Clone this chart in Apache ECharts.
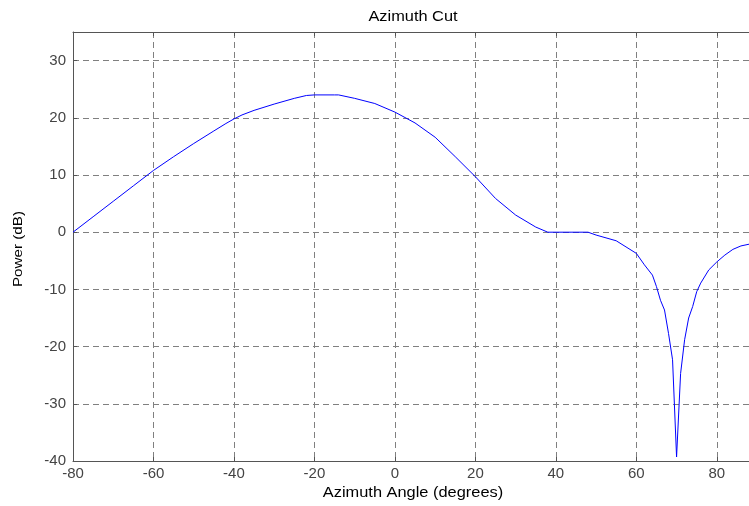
<!DOCTYPE html>
<html><head><meta charset="utf-8">
<script src="https://cdn.jsdelivr.net/npm/echarts@6/dist/echarts.min.js"></script>
<style>html,body{margin:0;padding:0;background:#fff}#c{width:749px;height:506px}</style>
</head><body><div id="c"></div>
<script>
const angles = [-80,-75,-70,-65,-60,-55,-50,-45,-42,-40,-38,-35,-30,-25,-22,-20,-15,-14,-10,-5,0,5,10,15,20,25,30,35,38,44,48,50,55,60,62,64,65,66,67,68,69,70,71,72,73,74,75,76,78,80,82,84,86,88];
const power  = [0,2.7,5.4,8.1,10.8,13.2,15.5,17.7,19.0,19.8,20.5,21.3,22.4,23.4,23.9,24.0,24.0,24.0,23.4,22.5,21.0,19.1,16.6,13.2,9.7,5.9,3.0,0.9,0.0,0.0,0.0,-0.5,-1.5,-3.7,-5.7,-7.5,-9.5,-11.9,-13.6,-17.7,-22.3,-39.3,-24.7,-18.8,-15.0,-13.0,-10.4,-8.9,-6.6,-5.2,-4.0,-3.0,-2.4,-2.1];
const xTicks = {min:-80, max:88, interval:20};
const yTicks = {min:-40, max:35, interval:10};
const titleText = 'Azimuth Cut';
const xName = 'Azimuth Angle (degrees)';
const yName = 'Power (dB)';

const chart = echarts.init(document.getElementById('c'), null, {renderer:'canvas'});
const font = 'Liberation Sans, Arial, sans-serif';
const split = {show:true, lineStyle:{color:'#808080', type:[6,4], width:1}};
const axisCommon = {
  axisLine:{show:true, onZero:false, lineStyle:{color:'#555', width:1}},
  axisTick:{show:true, inside:true, length:4, lineStyle:{color:'#555'}}
};
chart.setOption({
  animation:false,
  backgroundColor:'#fff',
  grid: {left:73, right:0, top:32, bottom:45},
  graphic: [
    {type:'text', x:413, y:17, scaleX:1.17, style:{text:titleText, fill:'#000', font:'14px '+font, textAlign:'center', textVerticalAlign:'middle'}},
    {type:'text', x:413, y:493, scaleX:1.17, style:{text:xName, fill:'#000', font:'14px '+font, textAlign:'center', textVerticalAlign:'middle'}},
    {type:'text', x:18, y:249, rotation:Math.PI/2, scaleX:1.17, style:{text:yName, fill:'#000', font:'13px '+font, textAlign:'center', textVerticalAlign:'middle'}}
  ],
  xAxis: [Object.assign({
    type:'value', min:xTicks.min, max:xTicks.max, interval:xTicks.interval, position:'bottom',
    axisLabel:{show:true, color:'#444', fontFamily:font, fontSize:15, margin:5, showMaxLabel:false},
    splitLine: split
  }, axisCommon), Object.assign({
    type:'value', min:xTicks.min, max:xTicks.max, interval:xTicks.interval, position:'top',
    axisLabel:{show:false}, splitLine:{show:false}
  }, axisCommon)],
  yAxis: Object.assign({
    type:'value', min:yTicks.min, max:yTicks.max, interval:yTicks.interval,
    axisLabel:{show:true, color:'#444', fontFamily:font, fontSize:15, margin:7, showMaxLabel:false},
    splitLine: split
  }, axisCommon),
  series: [{
    type:'line', xAxisIndex:0, data: angles.map((a,i)=>[a, power[i]]),
    showSymbol:false, symbol:'none', lineStyle:{color:'#0000ff', width:1}, smooth:false
  }]
});
</script></body></html>
